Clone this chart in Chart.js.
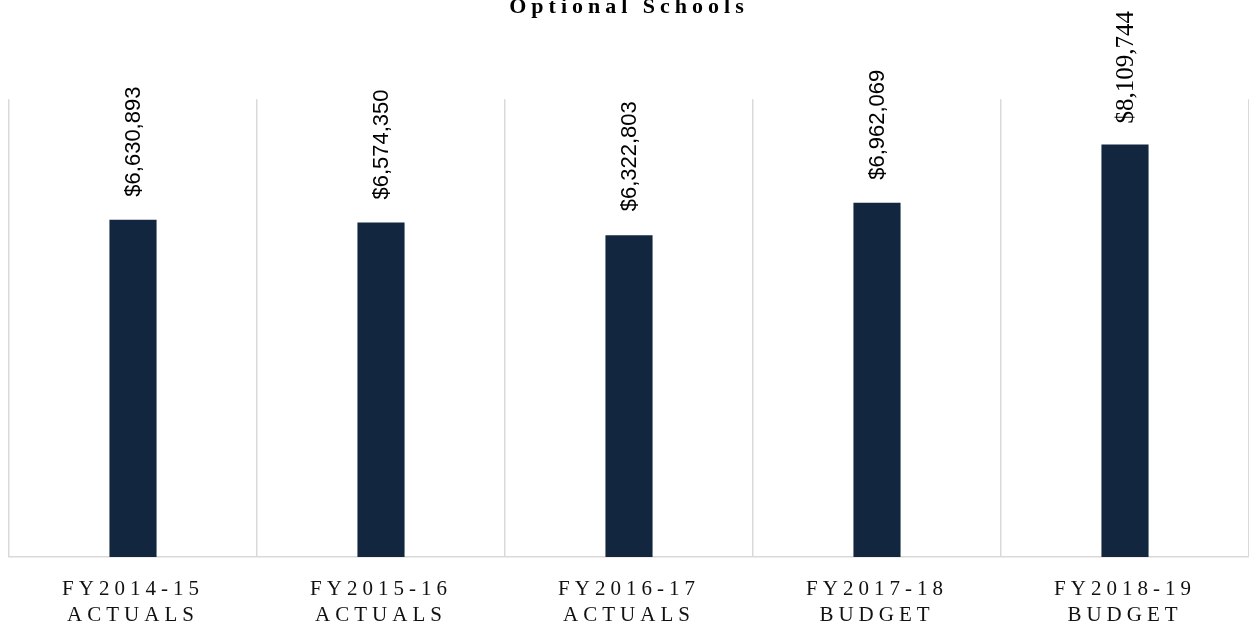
<!DOCTYPE html>
<html>
<head>
<meta charset="utf-8">
<title>Optional Schools</title>
<script src="https://cdn.jsdelivr.net/npm/chart.js@4.4.1/dist/chart.umd.min.js"></script>
<style>
  html, body { margin: 0; padding: 0; background: #ffffff; }
  canvas { display: block; }
</style>
</head>
<body>
<canvas id="chart" width="1249" height="630"></canvas>
<script>
// Fiscal years shown along the bottom (two lines each)
const categories = [
  ['FY2014-15', 'ACTUALS'],
  ['FY2015-16', 'ACTUALS'],
  ['FY2016-17', 'ACTUALS'],
  ['FY2017-18', 'BUDGET'],
  ['FY2018-19', 'BUDGET']
];

// Spending per fiscal year, in dollars
const spending = [6630893, 6574350, 6322803, 6962069, 8109744];

// Value axis range
const axisMin = 0;
const axisMax = 9000000;

// Dollar labels printed above each bar, built from the values themselves
const valueLabels = spending.map(v => '$' + v.toLocaleString('en-US'));

// Writes each bar's dollar amount vertically above it
const valueLabelPlugin = {
  id: 'valueLabels',
  afterDatasetsDraw(chart, args, opts) {
    const ctx = chart.ctx;
    const meta = chart.getDatasetMeta(0);
    meta.data.forEach((bar, i) => {
      ctx.save();
      ctx.letterSpacing = '0px';
      ctx.font = opts.fonts[i];
      ctx.fillStyle = opts.color;
      ctx.translate(bar.x + opts.dx, bar.y - opts.gaps[i]);
      ctx.rotate(-Math.PI / 2);
      ctx.textAlign = 'left';
      ctx.textBaseline = 'middle';
      ctx.fillText(valueLabels[i], 0, 0);
      ctx.restore();
    });
  }
};

// Widens the tracking of the title and the axis labels
const trackingPlugin = {
  id: 'tracking',
  beforeDraw(chart, args, opts) { chart.ctx.letterSpacing = opts.spacing; },
  afterDraw(chart) { chart.ctx.letterSpacing = '0px'; }
};

new Chart(document.getElementById('chart'), {
  type: 'bar',
  data: {
    labels: categories,
    datasets: [{
      data: spending,
      backgroundColor: '#13263f',
      borderWidth: 0,
      categoryPercentage: 1,
      barPercentage: 0.19
    }]
  },
  options: {
    responsive: false,
    animation: false,
    layout: { padding: { left: 9, right: 0, top: 0, bottom: -19 } },
    plugins: {
      legend: { display: false },
      tooltip: { enabled: false },
      title: {
        display: true,
        text: 'Optional Schools',
        color: '#000000',
        font: { family: 'Liberation Serif', size: 22, weight: 'bold', lineHeight: 0.69 },
        padding: { top: 0, bottom: 84 }
      },
      tracking: { spacing: '5px' },
      valueLabels: {
        color: '#000000',
        dx: 1,
        fonts: [
          '22px "Liberation Sans"',
          '22px "Liberation Sans"',
          '22px "Liberation Sans"',
          '22px "Liberation Sans"',
          '25px "Liberation Serif"'
        ],
        gaps: [23, 23, 24, 23, 21]
      }
    },
    scales: {
      x: {
        grid: { display: true, offset: true, color: '#d9d9d9', lineWidth: 1.5, drawTicks: false },
        border: { display: true, color: '#d9d9d9', width: 1.5 },
        ticks: {
          color: '#111111',
          padding: 20,
          maxRotation: 0,
          autoSkip: false,
          font: { family: 'Liberation Serif', size: 21, lineHeight: 1.24 }
        }
      },
      y: { display: false, min: axisMin, max: axisMax }
    }
  },
  plugins: [trackingPlugin, valueLabelPlugin]
});
</script>
</body>
</html>
